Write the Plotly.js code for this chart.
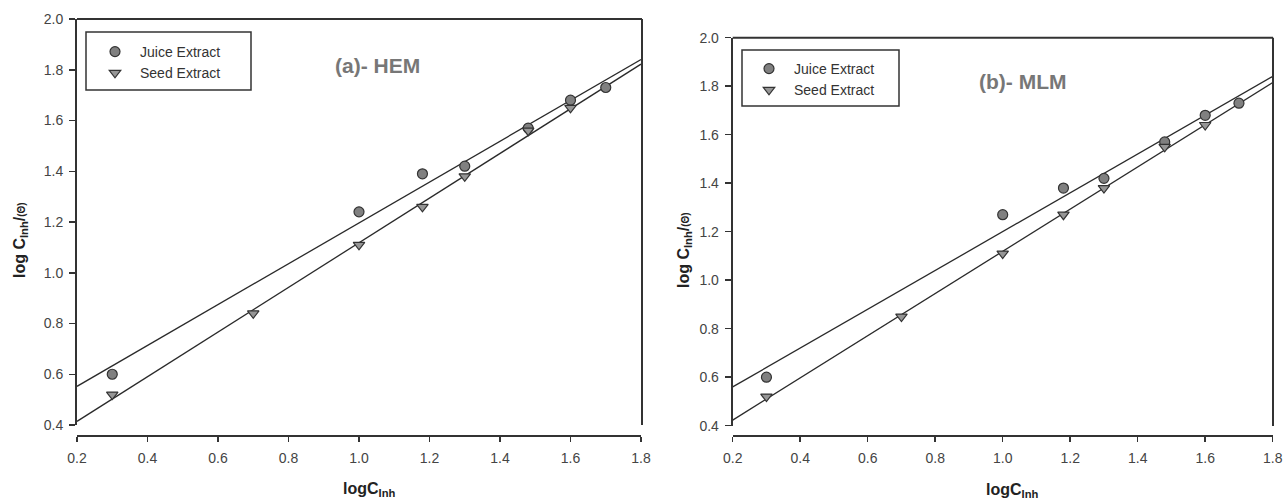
<!DOCTYPE html>
<html>
<head>
<meta charset="utf-8">
<script src="https://cdn.plot.ly/plotly-3.0.1.min.js"></script>
<style>
  html, body { margin: 0; padding: 0; background: #ffffff; }
  #chart { width: 1284px; height: 502px; }
</style>
</head>
<body>
<div id="chart"></div>
<script>
// Langmuir-type adsorption plots: log(C_inh/θ) versus log C_inh
const logC_juice = [0.30, 1.00, 1.18, 1.30, 1.48, 1.60, 1.70];
const logC_seed  = [0.30, 0.70, 1.00, 1.18, 1.30, 1.48, 1.60];

// (a) HEM
const hem_juice = [0.60, 1.24, 1.39, 1.42, 1.57, 1.68, 1.73];
const hem_seed  = [0.52, 0.84, 1.11, 1.26, 1.38, 1.56, 1.65];

// (b) MLM
const mlm_juice = [0.60, 1.27, 1.38, 1.42, 1.57, 1.68, 1.73];
const mlm_seed  = [0.52, 0.85, 1.11, 1.27, 1.38, 1.55, 1.64];

const xTicks = [0.2, 0.4, 0.6, 0.8, 1.0, 1.2, 1.4, 1.6, 1.8];
const yTicks = [0.4, 0.6, 0.8, 1.0, 1.2, 1.4, 1.6, 1.8, 2.0];
const seriesNames = ['Juice Extract', 'Seed Extract'];
const panelLabels = ['(a)- HEM', '(b)- MLM'];

const W = 1284, H = 502;
const fx = p => p / W;
const fy = p => 1 - p / H;

// least-squares straight line through a series, evaluated over the axis span
function fitLine(xs, ys) {
  const n = xs.length;
  const mx = xs.reduce((a, b) => a + b, 0) / n;
  const my = ys.reduce((a, b) => a + b, 0) / n;
  let sxy = 0, sxx = 0;
  for (let i = 0; i < n; i++) {
    sxy += (xs[i] - mx) * (ys[i] - my);
    sxx += (xs[i] - mx) * (xs[i] - mx);
  }
  const slope = sxy / sxx;
  const icpt = my - slope * mx;
  const x0 = xTicks[0], x1 = xTicks[xTicks.length - 1];
  return { x: [x0, x1], y: [icpt + slope * x0, icpt + slope * x1] };
}

const FONT = 'Arial, "Liberation Sans", sans-serif';
const circleMarker = { symbol: 'circle', size: 10, color: '#808080', line: { color: '#333', width: 1.2 } };
const triMarker = { symbol: 'triangle-down', size: 10, color: '#969696', line: { color: '#333', width: 1.2 } };
const fitStyle = { color: '#2a2a2a', width: 1.3 };

function panelTraces(xa, ya, juice, seed, legendId) {
  const fj = fitLine(logC_juice, juice);
  const fs = fitLine(logC_seed, seed);
  return [
    { x: fj.x, y: fj.y, xaxis: xa, yaxis: ya, mode: 'lines', line: fitStyle, showlegend: false, hoverinfo: 'skip' },
    { x: fs.x, y: fs.y, xaxis: xa, yaxis: ya, mode: 'lines', line: fitStyle, showlegend: false, hoverinfo: 'skip' },
    { x: logC_juice, y: juice, xaxis: xa, yaxis: ya, mode: 'markers', name: seriesNames[0], marker: circleMarker, legend: legendId },
    { x: logC_seed, y: seed, xaxis: xa, yaxis: ya, mode: 'markers', name: seriesNames[1], marker: triMarker, legend: legendId }
  ];
}

const data = [].concat(
  panelTraces('x', 'y', hem_juice, hem_seed, 'legend'),
  panelTraces('x2', 'y2', mlm_juice, mlm_seed, 'legend2')
);

const tickFont = { family: FONT, size: 14, color: '#444' };

function xAxis(l, r, pos) {
  return {
    domain: [fx(l), fx(r)], range: [0.2, 1.8], anchor: 'free', position: fy(pos),
    showline: true, linecolor: '#333', linewidth: 2,
    ticks: 'outside', ticklen: 5, tickwidth: 1.5, tickcolor: '#333',
    tickvals: xTicks, tickformat: '.1f', ticklabelstandoff: 4,
    showgrid: false, zeroline: false, tickfont: tickFont
  };
}
function yAxis(t, b, anchor) {
  return {
    domain: [fy(b), fy(t)], range: [0.4, 2.0], anchor: anchor,
    showline: true, linecolor: '#333', linewidth: 2,
    ticks: 'outside', ticklen: 6, tickwidth: 1.5, tickcolor: '#333',
    tickvals: yTicks, tickformat: '.1f', ticklabelstandoff: 3,
    showgrid: false, zeroline: false, tickfont: tickFont
  };
}

function legendAt(left, top) {
  return {
    x: fx(left), y: fy(top), xanchor: 'left', yanchor: 'top', xref: 'paper', yref: 'paper',
    bgcolor: 'rgba(0,0,0,0)', borderwidth: 0,
    font: { family: FONT, size: 14, color: '#333' },
    itemwidth: 40, tracegroupgap: 0
  };
}

function lineShape(x0, y0, x1, y1) {
  return { type: 'line', xref: 'paper', yref: 'paper', x0: fx(x0), y0: fy(y0), x1: fx(x1), y1: fy(y1),
           line: { color: '#333', width: 2 } };
}
function boxShape(x0, y0, x1, y1) {
  return { type: 'rect', xref: 'paper', yref: 'paper', x0: fx(x0), y0: fy(y0), x1: fx(x1), y1: fy(y1),
           line: { color: '#333', width: 1.5 }, fillcolor: 'rgba(0,0,0,0)' };
}

const yTitle = 'log C<sub>Inh</sub>/<span style="font-size:10px">(Θ)</span>';
const xTitle = 'logC<sub>Inh</sub>';

function note(text, x, y, size, color, angle) {
  return { text: text, xref: 'paper', yref: 'paper', x: fx(x), y: fy(y), xanchor: 'center', yanchor: 'middle',
           showarrow: false, textangle: angle || 0, font: { family: FONT, size: size, color: color } };
}

const layout = {
  width: W, height: H,
  margin: { l: 0, r: 0, t: 0, b: 0 },
  paper_bgcolor: '#ffffff', plot_bgcolor: 'rgba(0,0,0,0)',
  xaxis: xAxis(77, 641, 436),
  yaxis: yAxis(19, 425, 'x'),
  xaxis2: xAxis(732.7, 1272.7, 436),
  yaxis2: yAxis(37.7, 425.7, 'x2'),
  legend: legendAt(90, 36),
  legend2: legendAt(744, 53),
  shapes: [
    lineShape(77, 19, 642, 19), lineShape(642, 19, 642, 425),
    lineShape(732.7, 37.7, 1273, 37.7), lineShape(1273, 37.7, 1273, 426),
    boxShape(86, 32, 251, 90), boxShape(742, 50, 899, 106)
  ],
  annotations: [
    note('<b>' + panelLabels[0] + '</b>', 378, 65, 21, '#777'),
    note('<b>' + panelLabels[1] + '</b>', 1022, 82, 21, '#777'),
    note('<b>' + yTitle + '</b>', 20, 240, 16, '#222', -90),
    note('<b>' + yTitle + '</b>', 684, 250, 16, '#222', -90),
    note('<b>' + xTitle + '</b>', 369, 489, 16, '#222'),
    note('<b>' + xTitle + '</b>', 1012, 490, 16, '#222')
  ],
  showlegend: true
};

Plotly.newPlot('chart', data, layout, { displayModeBar: false, staticPlot: true });
</script>
</body>
</html>
